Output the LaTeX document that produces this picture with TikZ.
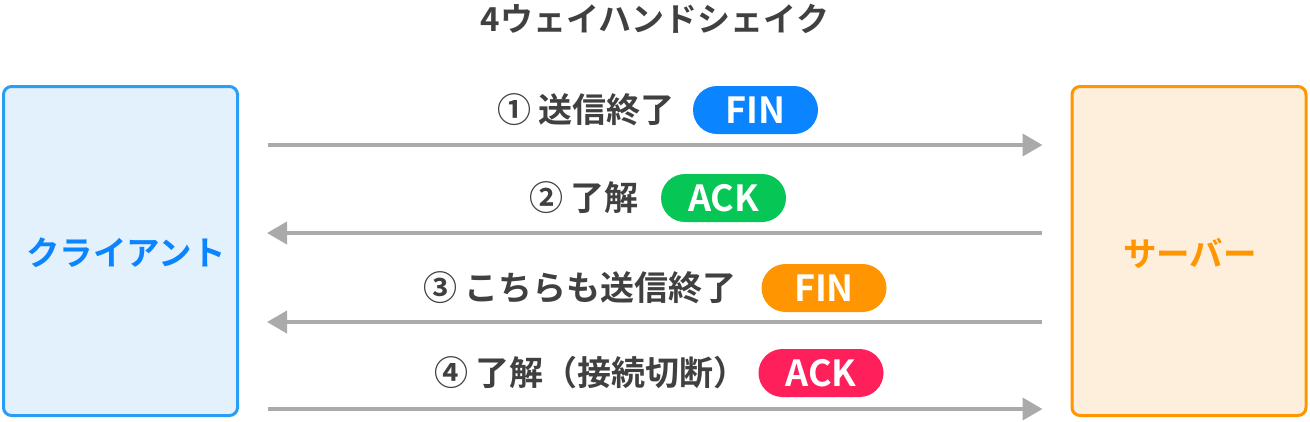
\documentclass[tikz,border=0pt]{standalone}
\usepackage{fontspec}
\setmainfont{Noto Sans CJK JP}[BoldFont={Noto Sans CJK JP Bold}]
\usetikzlibrary{arrows.meta,calc}
\definecolor{txt}{HTML}{404040}
\definecolor{cblue}{HTML}{0A84FF}
\definecolor{cbluestroke}{HTML}{2A9DF4}
\definecolor{cbluefill}{HTML}{E3F1FD}
\definecolor{corange}{HTML}{FF9500}
\definecolor{corangefill}{HTML}{FEEFDC}
\definecolor{cgreen}{HTML}{06C755}
\definecolor{cpink}{HTML}{FF1F5A}
\definecolor{cgray}{HTML}{AAAAAA}
\tikzset{
  party/.style={draw, line width=3pt, rounded corners=8pt, minimum width=234pt, minimum height=329pt, outer sep=0pt, inner sep=0pt},
  partytext/.style={inner sep=0pt, font=\fontsize{33.5}{36}\selectfont\bfseries},
  msg/.style={draw=cgray, line width=4pt, -{Triangle[length=20pt,width=22pt]}, shorten <=30.5pt, shorten >=29.5pt},
  pill/.style={rounded corners=24pt, minimum width=125pt, minimum height=48pt, inner sep=0pt, text=white, font=\fontsize{36}{38}\selectfont\bfseries},
  lbl/.style={text=txt, inner sep=0pt, font=\fontsize{34}{36}\selectfont\bfseries},
}
\begin{document}
\begin{tikzpicture}[x=1pt,y=-1pt]
\useasboundingbox (0,0) rectangle (1310,421);
\node[text=txt, inner sep=0pt, font=\fontsize{33}{36}\selectfont\bfseries] (title) at (655,19) {4ウェイハンドシェイク};
\node[party, draw=cbluestroke, fill=cbluefill] (client) at (120.5,251) {};
\node[party, draw=corange, fill=corangefill] (server) at (1189,251) {};
\node[partytext, text=cblue] (ctext) at (126,253) {クライアント};
\node[partytext, text=corange] (stext) at (1190,253) {サーバー};
\coordinate (y1) at (0,145);
\coordinate (y2) at (0,233);
\coordinate (y3) at (0,322);
\coordinate (y4) at (0,409);
\draw[msg] (client.east |- y1) -- (server.west |- y1);
\draw[msg] (server.west |- y2) -- (client.east |- y2);
\draw[msg] (server.west |- y3) -- (client.east |- y3);
\draw[msg] (client.east |- y4) -- (server.west |- y4);
\node[pill, fill=cblue] (p1) at (755.5,110) {FIN};
\node[pill, fill=cgreen] (p2) at (723.5,198) {ACK};
\node[pill, fill=corange] (p3) at (824,288) {FIN};
\node[pill, fill=cpink] (p4) at (821,373) {ACK};
\node[lbl] (l1) at (586,110) {① 送信終了};
\node[lbl] (l2) at (584,198) {② 了解};
\node[lbl] (l3) at (580,288) {③ こちらも送信終了};
\node[lbl] (l4) at (591,373) {④ 了解（接続切断）};
\end{tikzpicture}
\end{document}
